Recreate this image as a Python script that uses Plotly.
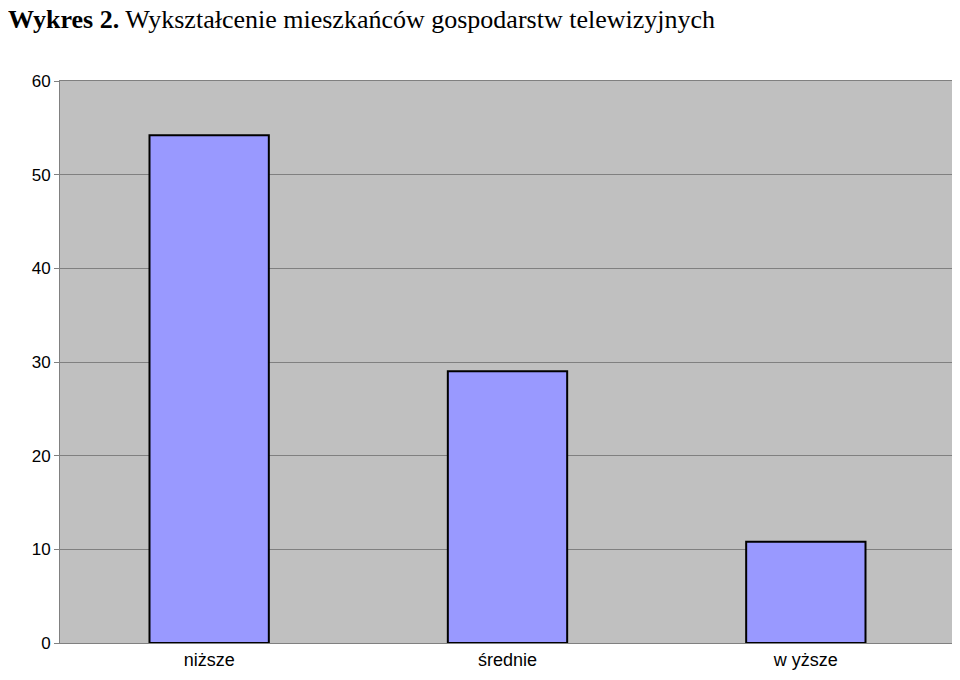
import plotly.graph_objects as go

categories = ["niższe", "średnie", "w yższe"]
values = [54.2, 29.0, 10.8]
yticks = [0, 10, 20, 30, 40, 50, 60]

fig = go.Figure(go.Bar(
    x=categories, y=values, width=0.4,
    marker=dict(color="#9999ff", line=dict(color="black", width=2)),
))
fig.update_layout(
    width=960, height=680,
    paper_bgcolor="white", plot_bgcolor="#c0c0c0",
    margin=dict(l=52, r=13, t=73, b=45),
    showlegend=False, bargap=0.6,
    title=dict(text="<b>Wykres 2.</b> Wykształcenie mieszkańców gospodarstw telewizyjnych",
               x=0.0, xanchor="left", y=0.998, yanchor="top",
               font=dict(family="Liberation Serif", size=26, color="black")),
    font=dict(family="Liberation Sans", size=17, color="black"),
)
fig.update_yaxes(range=[0, 60], tickvals=yticks, gridcolor="#808080", gridwidth=1,
                 showline=True, linecolor="#808080", mirror=True, ticks="outside",
                 ticklen=5, tickcolor="#808080", zeroline=False)
fig.update_xaxes(showline=True, linecolor="#808080", mirror=True, ticks="", tickfont=dict(size=18))
fig.write_html("out.html")
